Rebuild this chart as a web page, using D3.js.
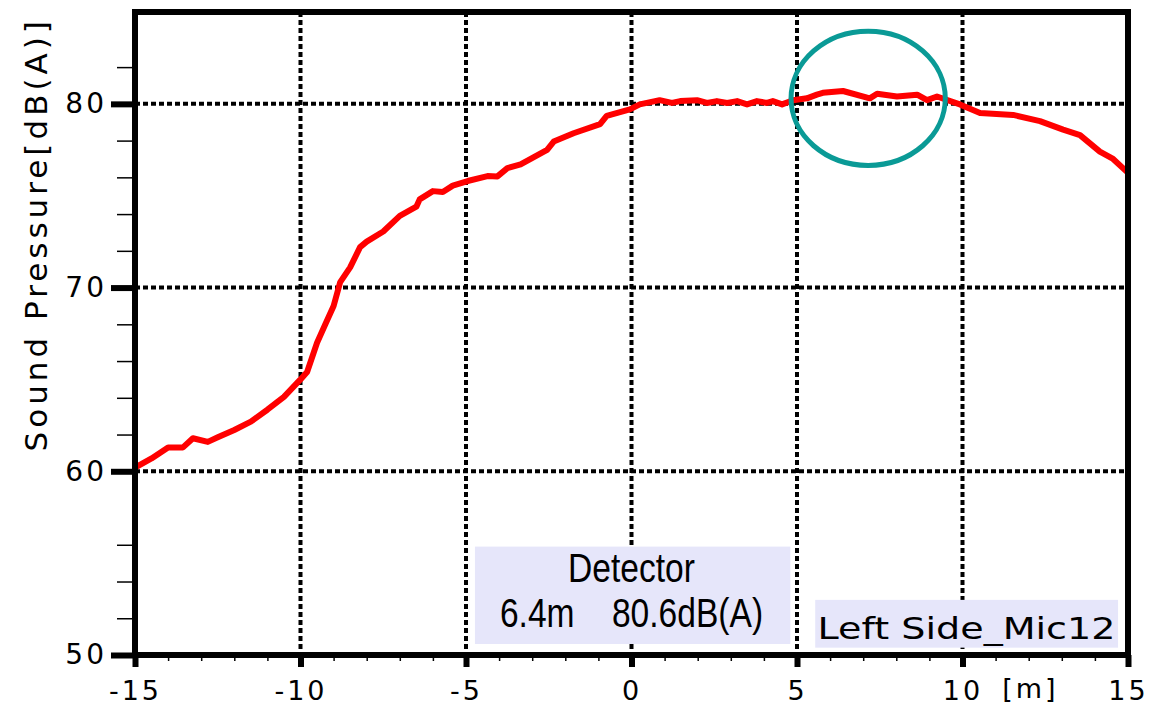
<!DOCTYPE html>
<html>
<head>
<meta charset="utf-8">
<script src="https://cdn.jsdelivr.net/npm/d3@7"></script>
<style>
  body { margin: 0; background: #fff; }
  svg { display: block; }
</style>
</head>
<body>
<svg id="chart"></svg>
<script>
const WIDTH = 1151
const HEIGHT = 708

// position along the track [m]
const positions = [
    -15.0, -14.5, -14.0, -13.55, -13.25, -12.8, -12.5, -12.0, -11.5, -11.0,
    -10.5, -10.0, -9.8, -9.5, -9.25, -9.0, -8.8, -8.5, -8.2, -8.0,
    -7.5, -7.0, -6.5, -6.4, -6.0, -5.7, -5.4, -4.95, -4.35, -4.05,
    -3.75, -3.35, -2.95, -2.55, -2.35, -1.75, -0.95, -0.75, -0.05, 0.25,
    0.85, 1.22, 1.47, 1.98, 2.28, 2.58, 2.89, 3.19, 3.49, 3.79,
    4.09, 4.27, 4.55, 4.88, 5.3, 5.6, 5.78, 6.39, 7.2, 7.42,
    8.02, 8.63, 8.93, 9.23, 9.92, 10.53, 11.53, 12.34, 13.04, 13.55,
    14.15, 14.55, 14.97
]
// sound pressure [dB(A)]
const levels = [
    60.2, 60.7, 61.3, 61.3, 61.8, 61.6, 61.85, 62.25, 62.7, 63.35,
    64.05, 65.0, 65.4, 67.0, 68.0, 69.0, 70.3, 71.1, 72.2, 72.5,
    73.05, 73.9, 74.4, 74.8, 75.25, 75.2, 75.55, 75.8, 76.07, 76.05,
    76.5, 76.7, 77.1, 77.5, 77.95, 78.4, 78.9, 79.35, 79.7, 79.97,
    80.2, 80.05, 80.15, 80.2, 80.05, 80.15, 80.05, 80.15, 79.97, 80.15,
    80.05, 80.15, 79.97, 80.2, 80.3, 80.5, 80.6, 80.7, 80.3, 80.55,
    80.4, 80.5, 80.2, 80.4, 79.97, 79.5, 79.4, 79.06, 78.6, 78.3,
    77.4, 77.0, 76.3
]

const xMajor = [-15, -10, -5, 0, 5, 10, 15]
const xMinor = d3.range(-15, 15.5, 1)
const yMajor = [50, 60, 70, 80]
const yMinor = [52, 54, 56, 62, 64, 66, 68, 72, 74, 76, 78, 82]
const xGrid = [-10, -5, 0, 5, 10]
const yGrid = [60, 70, 80]

const detector = { pos: 6.4, level: 80.6 }

const data = positions.map((p, i) => ({ x: p, y: levels[i] }))

const margin = { left: 135, right: 23, top: 12, bottom: 53 }

const x = d3.scaleLinear().domain([-15, 15]).range([margin.left, WIDTH - margin.right])
const y = d3.scaleLinear().domain([50, 85]).range([HEIGHT - margin.bottom, margin.top])

const svg = d3.select('#chart').attr('width', WIDTH).attr('height', HEIGHT)

const tickFont = 'DejaVu Sans, Verdana, sans-serif'

// grid
svg.append('g')
    .selectAll('line')
    .data(xGrid)
    .join('line')
    .attr('x1', d => x(d)).attr('x2', d => x(d))
    .attr('y1', y(85)).attr('y2', y(50))
    .attr('stroke', '#000')
    .attr('stroke-width', 4)
    .attr('stroke-dasharray', '5,3')

svg.append('g')
    .selectAll('line')
    .data(yGrid)
    .join('line')
    .attr('x1', x(-15)).attr('x2', x(15))
    .attr('y1', d => y(d)).attr('y2', d => y(d))
    .attr('stroke', '#000')
    .attr('stroke-width', 4)
    .attr('stroke-dasharray', '5,3')

// curve
const line = d3.line().x(d => x(d.x)).y(d => y(d.y))
svg.append('path')
    .datum(data)
    .attr('d', line)
    .attr('fill', 'none')
    .attr('stroke', '#ff0000')
    .attr('stroke-width', 6)
    .attr('stroke-linejoin', 'round')

// label boxes
const boxFill = '#e6e6fa'
svg.append('rect')
    .attr('x', x(-4.73)).attr('y', y(55.9))
    .attr('width', x(4.8) - x(-4.73)).attr('height', y(50.6) - y(55.9))
    .attr('fill', boxFill)

svg.append('rect')
    .attr('x', x(5.55)).attr('y', y(53.0))
    .attr('width', x(14.7) - x(5.55)).attr('height', y(50.4) - y(53.0))
    .attr('fill', boxFill)

// condensed text for the detector readout
const narrow = 'Liberation Sans, Arial, sans-serif'
const detBox = svg.append('g')
    .attr('transform', `translate(${x(0.0)}, 0) scale(0.84, 1)`)

detBox.append('text')
    .attr('x', 0).attr('y', y(54.0))
    .attr('text-anchor', 'middle')
    .attr('font-family', narrow)
    .attr('font-size', 40)
    .text('Detector')

detBox.append('text')
    .attr('x', 0).attr('y', y(51.5))
    .attr('text-anchor', 'middle')
    .attr('font-family', narrow)
    .attr('font-size', 40)
    .attr('xml:space', 'preserve')
    .text(`${detector.pos}m    ${detector.level}dB(A)`)

svg.append('text')
    .attr('x', x(5.62)).attr('y', y(50.85))
    .attr('font-family', tickFont)
    .attr('font-size', 30)
    .attr('textLength', 298)
    .attr('lengthAdjust', 'spacingAndGlyphs')
    .text('Left Side_Mic12')

// detector marker ellipse
svg.append('ellipse')
    .attr('cx', x(7.15)).attr('cy', y(80.3))
    .attr('rx', x(7.15 + 2.33) - x(7.15))
    .attr('ry', y(80.3 - 3.65) - y(80.3))
    .attr('fill', 'none')
    .attr('stroke', '#0a9a96')
    .attr('stroke-width', 5)

// frame
svg.append('rect')
    .attr('x', x(-15)).attr('y', y(85))
    .attr('width', x(15) - x(-15)).attr('height', y(50) - y(85))
    .attr('fill', 'none')
    .attr('stroke', '#000')
    .attr('stroke-width', 6)

// x axis
const xAxisMinor = svg.append('g')
    .attr('transform', `translate(0, ${y(50)})`)
    .call(d3.axisBottom(x).tickValues(xMinor).tickSize(6).tickFormat(''))
xAxisMinor.select('.domain').remove()
xAxisMinor.selectAll('line').attr('stroke-width', 1.5)

const xAxis = svg.append('g')
    .attr('transform', `translate(0, ${y(50)})`)
    .call(d3.axisBottom(x).tickValues(xMajor).tickSize(12).tickPadding(14).tickFormat(d => String(d)))
xAxis.select('.domain').remove()
xAxis.selectAll('line').attr('stroke-width', 6)
xAxis.selectAll('text')
    .attr('font-family', tickFont)
    .attr('font-size', 27)
    .attr('letter-spacing', 3)
    .attr('fill', '#000')

svg.append('text')
    .attr('x', x(11.2)).attr('y', 698)
    .attr('font-family', tickFont)
    .attr('font-size', 27)
    .attr('letter-spacing', 3)
    .text('[m]')

// y axis
const yAxisMinor = svg.append('g')
    .attr('transform', `translate(${x(-15)}, 0)`)
    .call(d3.axisLeft(y).tickValues(yMinor).tickSize(18).tickFormat(''))
yAxisMinor.select('.domain').remove()
yAxisMinor.selectAll('line').attr('stroke-width', 1.5)

const yAxis = svg.append('g')
    .attr('transform', `translate(${x(-15)}, 0)`)
    .call(d3.axisLeft(y).tickValues(yMajor).tickSize(24).tickPadding(4))
yAxis.select('.domain').remove()
yAxis.selectAll('line').attr('stroke-width', 6)
yAxis.selectAll('text')
    .attr('font-family', tickFont)
    .attr('font-size', 28)
    .attr('letter-spacing', 3)
    .attr('fill', '#000')

svg.append('text')
    .attr('transform', `translate(47, ${y(72.9)}) rotate(-90)`)
    .attr('text-anchor', 'middle')
    .attr('font-family', tickFont)
    .attr('font-size', 31)
    .attr('letter-spacing', 4)
    .text('Sound Pressure[dB(A)]')
</script>
</body>
</html>
